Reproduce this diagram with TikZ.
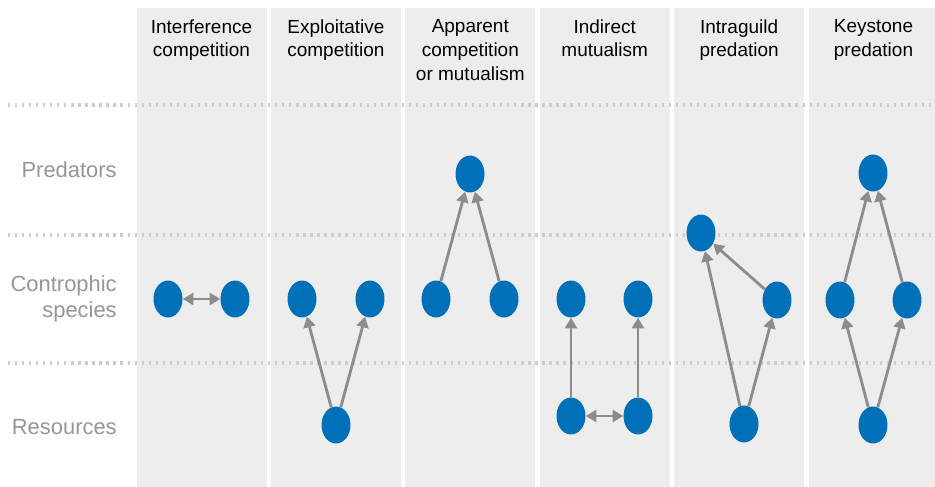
\documentclass[tikz,border=0pt]{standalone}
\usepackage{fontspec}
\setmainfont{Liberation Sans}
\usepackage{tikz}
\usetikzlibrary{shapes.geometric,arrows.meta,positioning}
\definecolor{panelgray}{RGB}{237,237,237}
\definecolor{dotgray}{RGB}{205,205,205}
\definecolor{rowgray}{RGB}{150,150,150}
\definecolor{spblue}{RGB}{0,112,184}
\definecolor{linkgray}{RGB}{140,140,140}
\tikzset{
  panel/.style={fill=panelgray,draw=none},
  guide/.style={draw=dotgray,line width=2.2pt,dash pattern=on 1.6pt off 3.4pt},
  ttl/.style={anchor=north,align=center,inner sep=0pt,font=\fontsize{13.5}{17}\selectfont},
  rowlbl/.style={anchor=east,align=right,inner sep=0pt,text=rowgray,
              font=\fontsize{15.6}{18.5}\selectfont},
  sp/.style={ellipse,fill=spblue,minimum width=20.6pt,minimum height=26.3pt,inner sep=0pt},
  link/.style={-{Triangle[length=7.5pt,width=8.5pt]},line width=2pt,draw=linkgray},
  both/.style={{Triangle[length=7.5pt,width=8.5pt]}-{Triangle[length=7.5pt,width=8.5pt]},
              line width=2pt,draw=linkgray},
}

\begin{document}
\begin{tikzpicture}[x=0.025cm,y=-0.025cm]
  \useasboundingbox (0,0) rectangle (935,487);
  \foreach \cx in {201.5,335.9,470.3,604.7,739.1,873.5}
    \fill[panel] (\cx-65,8) rectangle (\cx+65,487);
  \foreach \gy in {105,235,363}
    \draw[guide] (8,\gy) -- (935,\gy);

  % column titles
  \node[ttl] (tInt) at (201.5,19) {Interference\\competition};
  \node[ttl] (tExp) at (335.9,19) {Exploitative\\competition};
  \node[ttl] (tApp) at (470.3,19) {Apparent\\competition\\or mutualism};
  \node[ttl] (tInd) at (604.7,19) {Indirect\\mutualism};
  \node[ttl] (tIgp) at (739.1,19) {Intraguild\\predation};
  \node[ttl] (tKey) at (873.5,19) {Keystone\\predation};

  % row labels
  \node[rowlbl] (rPred) at (117,170) {Predators};
  \node[rowlbl] (rCon) at (117,299) {Controphic\\species};
  \node[rowlbl] (rRes) at (117,427) {Resources};

  % interference competition
  \node[sp] (ic1) at (168,299) {};
  \node[sp] (ic2) at (235,299) {};
  \draw[both] (ic1) -- (ic2);

  % exploitative competition
  \node[sp] (ec1) at (302,299) {};
  \node[sp] (ec2) at (370,299) {};
  \node[sp] (ecR) at (336,425) {};
  \draw[link] (ecR) -- (ec1);
  \draw[link] (ecR) -- (ec2);

  % apparent competition
  \node[sp] (apP) at (470,174) {};
  \node[sp] (ap1) at (436,299) {};
  \node[sp] (ap2) at (504,299) {};
  \draw[link] (ap1) -- (apP);
  \draw[link] (ap2) -- (apP);

  % indirect mutualism
  \node[sp] (im1) at (571,299) {};
  \node[sp] (im2) at (638,299) {};
  \node[sp] (imR1) at (571,416) {};
  \node[sp] (imR2) at (638,416) {};
  \draw[link] (imR1) -- (im1);
  \draw[link] (imR2) -- (im2);
  \draw[both] (imR1) -- (imR2);

  % intraguild predation
  \node[sp] (igP) at (701,233) {};
  \node[sp] (ig1) at (777,300) {};
  \node[sp] (igR) at (744,424) {};
  \draw[link] (igR) -- (igP);
  \draw[link] (igR) -- (ig1);
  \draw[link] (ig1) -- (igP);

  % keystone predation
  \node[sp] (kpP) at (873,173) {};
  \node[sp] (kp1) at (840,300) {};
  \node[sp] (kp2) at (907,300) {};
  \node[sp] (kpR) at (873,425) {};
  \draw[link] (kpR) -- (kp1);
  \draw[link] (kpR) -- (kp2);
  \draw[link] (kp1) -- (kpP);
  \draw[link] (kp2) -- (kpP);
\end{tikzpicture}
\end{document}
